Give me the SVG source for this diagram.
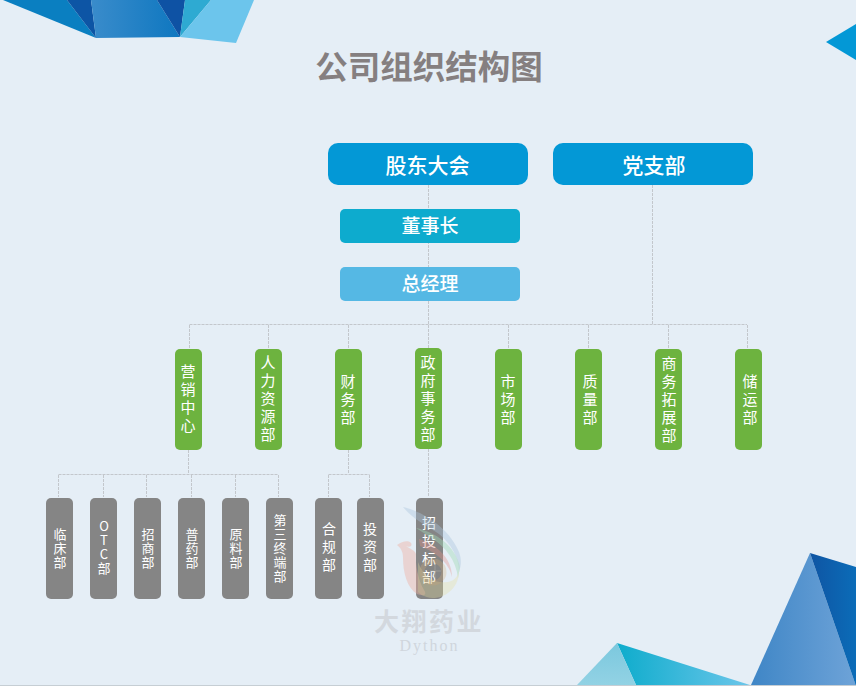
<svg xmlns="http://www.w3.org/2000/svg" width="856" height="686" viewBox="0 0 856 686">
<defs>
<style>
text{font-family:"Noto Sans CJK SC","Liberation Sans",sans-serif;fill:#fff;text-anchor:middle}
.c{fill:none;stroke:#c3c7cc;stroke-width:1;stroke-dasharray:3 1}
.t{font-size:21px;font-weight:500}
.m{font-size:19px;font-weight:500}
.g text,.k text,.l text{writing-mode:vertical-rl;text-orientation:upright}
.g{font-size:15px}
.k{font-size:13px}
.l{font-size:14px}
.gr{fill:#6db33f}
.gy{fill:#858585}
</style>
<linearGradient id="a" x1="0" y1="0" x2="1" y2="0"><stop offset="0" stop-color="#3a8ccb"/><stop offset="1" stop-color="#0e77c0"/></linearGradient>
<linearGradient id="b" x1="0" y1="0" x2="1" y2="0"><stop offset="0" stop-color="#3f86c6"/><stop offset="1" stop-color="#6ea3d8"/></linearGradient>
<linearGradient id="d" x1="0" y1="0" x2="1" y2="0"><stop offset="0" stop-color="#0f55a3"/><stop offset="1" stop-color="#0b6cb8"/></linearGradient>
<linearGradient id="e" x1="0" y1="0" x2="1" y2="0"><stop offset="0" stop-color="#0eaccc"/><stop offset="1" stop-color="#6cc6ea"/></linearGradient>
<linearGradient id="f" x1="0" y1="0" x2="0" y2="1"><stop offset="0" stop-color="#7bc8de"/><stop offset="1" stop-color="#92d2e4"/></linearGradient>
</defs>
<rect width="856" height="686" fill="#e5eef6"/>
<polygon points="3,0 67,0 96,38" fill="#0a7fc1"/>
<polygon points="67,0 91,0 96,38" fill="#0d55a5"/>
<polygon points="91,0 157,0 180,37 96,38" fill="url(#a)"/>
<polygon points="157,0 185,0 180,37" fill="#0e52a4"/>
<polygon points="185,0 211,0 180,37" fill="#2eaad2"/>
<polygon points="211,0 254,0 236,43 180,37" fill="#6cc5ec"/>
<polygon points="856,24 826,42 856,60" fill="#0398d6"/>
<polygon points="810,553 856,686 751,685" fill="url(#b)"/>
<polygon points="810,553 856,567 856,686" fill="url(#d)"/>
<polygon points="617,643 750,685 636,685" fill="url(#e)"/>
<polygon points="617,643 636,685 577,685" fill="url(#f)"/>
<rect y="685" width="856" height="1" fill="#c6ced4"/>
<g id="connectors">
<path class="c" d="M428.500 185V324M652.500 185V324M189.500 324.500H747M189.500 325V348M268.500 325V348M348.500 325V348M428.500 325V348M508.500 325V348M588.500 325V348M668.500 325V348M747.500 325V348"/>
<path class="c" d="M188.500 450V474M58.500 474.500H278.500M58.500 475V497M103.500 475V497M146.500 475V497M191.500 475V497M235.500 475V497M278.500 475V497"/>
<path class="c" d="M348.500 450V474M328.500 474.500H369.500M328.500 475V497M369.500 475V497"/>
<path class="c" d="M428.500 449V497"/>
</g>
<text x="429" y="79" font-size="32.500" font-weight="700" style="fill:#857f80">公司组织结构图</text>
<g id="n1"><rect x="328" y="143" width="200" height="42" rx="10" fill="#0398d6"/><text class="t" x="427.500" y="173">股东大会</text></g>
<g id="n2"><rect x="553" y="143" width="200" height="42" rx="10" fill="#0398d6"/><text class="t" x="654" y="173">党支部</text></g>
<g id="n3"><rect x="340" y="209" width="180" height="34" rx="5" fill="#0dabce"/><text class="m" x="430" y="233">董事长</text></g>
<g id="n4"><rect x="340" y="267" width="180" height="34" rx="5" fill="#55b8e4"/><text class="m" x="430" y="290.500">总经理</text></g>
<g id="d1"><rect class="gr" x="175" y="349" width="27" height="101" rx="5"/><g class="g"><text x="188" y="371.500">营</text><text x="188" y="389.500">销</text><text x="188" y="407.500">中</text><text x="188" y="425.500">心</text></g></g>
<g id="d2"><rect class="gr" x="255" y="349" width="27" height="101" rx="5"/><g class="g"><text x="268" y="362.500">人</text><text x="268" y="380.500">力</text><text x="268" y="398.500">资</text><text x="268" y="416.500">源</text><text x="268" y="434.500">部</text></g></g>
<g id="d3"><rect class="gr" x="335" y="349" width="27" height="101" rx="5"/><g class="g"><text x="348" y="381">财</text><text x="348" y="399">务</text><text x="348" y="417">部</text></g></g>
<g id="d4"><rect class="gr" x="415" y="348" width="27" height="101" rx="5"/><g class="g"><text x="428" y="362">政</text><text x="428" y="380">府</text><text x="428" y="398">事</text><text x="428" y="416">务</text><text x="428" y="434">部</text></g></g>
<g id="d5"><rect class="gr" x="495" y="349" width="27" height="101" rx="5"/><g class="g"><text x="508" y="381.500">市</text><text x="508" y="399.500">场</text><text x="508" y="417.500">部</text></g></g>
<g id="d6"><rect class="gr" x="575" y="349" width="27" height="101" rx="5"/><g class="g"><text x="590" y="381.500">质</text><text x="590" y="399.500">量</text><text x="590" y="417.500">部</text></g></g>
<g id="d7"><rect class="gr" x="655" y="349" width="27" height="101" rx="5"/><g class="g"><text x="669" y="363.500">商</text><text x="669" y="381.500">务</text><text x="669" y="399.500">拓</text><text x="669" y="417.500">展</text><text x="669" y="435.500">部</text></g></g>
<g id="d8"><rect class="gr" x="735" y="349" width="27" height="101" rx="5"/><g class="g"><text x="750" y="381.500">储</text><text x="750" y="399.500">运</text><text x="750" y="417.500">部</text></g></g>
<g id="s1"><rect class="gy" x="46" y="498" width="27" height="101" rx="5"/><g class="k"><text x="60" y="534">临</text><text x="60" y="548">床</text><text x="60" y="562">部</text></g></g>
<g id="s2"><rect class="gy" x="90" y="498" width="27" height="101" rx="5"/><g class="k"><text x="104" y="526">O</text><text x="104" y="540">T</text><text x="104" y="554">C</text><text x="104" y="568">部</text></g></g>
<g id="s3"><rect class="gy" x="134" y="498" width="27" height="101" rx="5"/><g class="k"><text x="148" y="534">招</text><text x="148" y="548">商</text><text x="148" y="562">部</text></g></g>
<g id="s4"><rect class="gy" x="178" y="498" width="27" height="101" rx="5"/><g class="k"><text x="192" y="534">普</text><text x="192" y="548">药</text><text x="192" y="562">部</text></g></g>
<g id="s5"><rect class="gy" x="222" y="498" width="27" height="101" rx="5"/><g class="k"><text x="236" y="534">原</text><text x="236" y="548">料</text><text x="236" y="562">部</text></g></g>
<g id="s6"><rect class="gy" x="266" y="498" width="27" height="101" rx="5"/><g class="k"><text x="280" y="520">第</text><text x="280" y="534">三</text><text x="280" y="548">终</text><text x="280" y="562">端</text><text x="280" y="576">部</text></g></g>
<g id="s7"><rect class="gy" x="315" y="498" width="27" height="101" rx="5"/><g class="l"><text x="329" y="529">合</text><text x="329" y="547">规</text><text x="329" y="565">部</text></g></g>
<g id="s8"><rect class="gy" x="357" y="498" width="27" height="101" rx="5"/><g class="l"><text x="370" y="529">投</text><text x="370" y="547">资</text><text x="370" y="565">部</text></g></g>
<g id="s9"><rect class="gy" x="416" y="498" width="27" height="101" rx="5"/><g class="l"><text x="429" y="522.500">招</text><text x="429" y="540.500">投</text><text x="429" y="558.500">标</text><text x="429" y="576.500">部</text></g></g>
<g id="logo" opacity="0.7">
<path d="M403 507C418 510 448 525 459 552C462 560 461 566 459 572C459 555 448 540 436 532C425 525 412 518 403 507Z" fill="#a9c4dc" opacity=".55"/>
<path d="M416 528C435 532 455 545 460 567L458 578C456 560 445 547 433 539Z" fill="#a2dbb8" opacity=".6"/>
<path d="M419 539C435 544 452 557 452 577C449 562 435 552 420 546Z" fill="#e5928a" opacity=".5"/>
<path d="M397 545C402 541 409 540 411 543C413 546 409 548 406 546C410 549 415 550 416 554C415 563 418 580 424 590C428 596 422 596 417 594C407 588 403 572 403 558C403 552 401 548 397 545Z" fill="#eeb0a4" opacity=".6"/>
<path d="M418 562C424 578 436 584 448 582C458 580 460 572 458 565C462 580 452 596 435 598C428 598 422 596 418 592Z" fill="#e6dd9c" opacity=".45"/>
<circle cx="433" cy="572" r="11" fill="none" stroke="#d9b27a" stroke-width="5" opacity=".4"/>
<path d="M430 571H441M435 565V578" stroke="#a8a8a2" stroke-width="2" opacity=".5"/>
</g>
<text x="429" y="631" font-size="25" font-weight="700" letter-spacing="2.500" style="font-family:'Noto Sans CJK SC',serif;fill:#d3d8de">大翔药业</text>
<text x="429.500" y="651" font-size="16" letter-spacing="2" style="font-family:'Liberation Serif',serif;fill:#d0d6dd">Dython</text>
</svg>
